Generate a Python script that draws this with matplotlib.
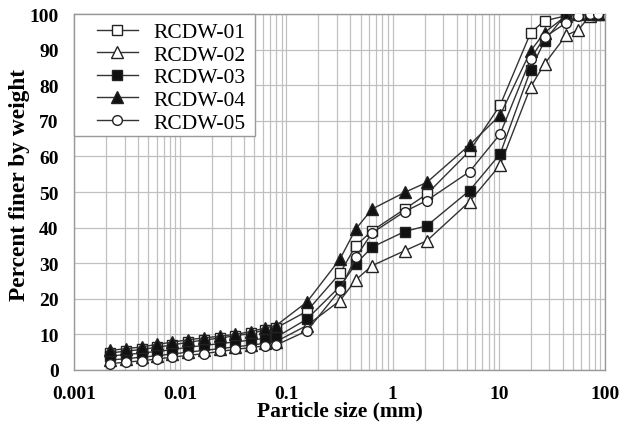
import matplotlib
matplotlib.use("Agg")
import matplotlib.pyplot as plt
from matplotlib.ticker import FixedLocator, NullFormatter, FixedFormatter
from matplotlib.patches import Rectangle

# Particle sizes (mm)
sizes = [0.0022, 0.0031, 0.0044, 0.006, 0.0084, 0.0118, 0.0167, 0.0237, 0.033,
         0.0465, 0.063, 0.08, 0.156, 0.32, 0.45, 0.64, 1.3, 2.1, 5.3, 10.3,
         20, 27, 43, 56, 72, 86]

rcdw01 = [4.8, 5.3, 5.8, 6.4, 7.0, 7.8, 8.4, 9.0, 9.6, 10.3, 11.2, 11.8,
          16.5, 27.2, 34.9, 39.1, 45.2, 49.4, 61.5, 74.4, 94.8, 98.1, 99.5, 100, 100, 100]
rcdw02 = [2.8, 3.2, 3.6, 4.0, 4.5, 5.0, 5.5, 6.0, 6.5, 7.0, 7.5, 8.0,
          12.5, 19.5, 25.3, 29.3, 33.5, 36.3, 47.3, 57.6, 79.6, 86.0, 94.0, 95.5, 99.5, 100]
rcdw03 = [4.0, 4.3, 4.8, 5.2, 5.7, 6.4, 6.9, 7.4, 7.9, 8.4, 8.9, 9.2,
          14.3, 23.5, 29.8, 34.5, 38.9, 40.5, 50.4, 60.7, 84.4, 92.5, 100, 100, 100, 100]
rcdw04 = [5.5, 6.0, 6.5, 7.2, 7.8, 8.5, 9.0, 9.5, 10.0, 10.8, 11.8, 12.5,
          19.1, 31.2, 39.6, 45.2, 49.9, 52.7, 63.2, 71.6, 89.7, 94.8, 99.5, 100, 100, 100]
rcdw05 = [1.8, 2.2, 2.6, 3.1, 3.6, 4.1, 4.6, 5.2, 5.8, 6.3, 6.8, 7.0,
          11.0, 22.5, 31.7, 38.5, 44.5, 47.6, 55.7, 66.3, 87.5, 93.5, 97.5, 99.5, 100, 100]

labels = ["RCDW-01", "RCDW-02", "RCDW-03", "RCDW-04", "RCDW-05"]
xtick_vals = [0.001, 0.01, 0.1, 1, 10, 100]
xtick_labels = ["0.001", "0.01", "0.1", "1", "10", "100"]
ytick_vals = list(range(0, 101, 10))

plt.rcParams['font.family'] = ['Liberation Serif', 'DejaVu Serif']

W, H = 625, 439
fig = plt.figure(figsize=(W/100, H/100), dpi=100)
ax = fig.add_axes([74/W, 68/H, 531/W, 356/H])

line_c = '#333333'
styles = [
    dict(marker='s', mfc='white'),
    dict(marker='^', mfc='white'),
    dict(marker='s', mfc='#111111'),
    dict(marker='^', mfc='#111111'),
    dict(marker='o', mfc='white'),
]
series = [rcdw01, rcdw02, rcdw03, rcdw04, rcdw05]
for s, lab, st in zip(series, labels, styles):
    ms = 8 if st['marker'] == '^' else 7
    ax.plot(sizes, s, color=line_c, lw=1.0, marker=st['marker'], ms=ms,
            mfc=st['mfc'], mec='#222222', mew=1.0, label=lab, zorder=3)

ax.set_xscale('log')
ax.set_xlim(0.001, 100)
ax.set_ylim(0, 100)
ax.xaxis.set_major_locator(FixedLocator(xtick_vals))
ax.xaxis.set_major_formatter(FixedFormatter(xtick_labels))
ax.xaxis.set_minor_formatter(NullFormatter())
ax.set_yticks(ytick_vals)
ax.grid(True, which='both', axis='x', color='#c0c0c0', lw=0.9)
ax.grid(True, which='major', axis='y', color='#c0c0c0', lw=0.9)
ax.set_axisbelow(True)
for sp in ax.spines.values():
    sp.set_color('#999999')
    sp.set_linewidth(1.0)
ax.tick_params(which='both', length=0)
ax.tick_params(axis='x', pad=11, labelsize=14)
ax.tick_params(axis='y', pad=11, labelsize=14)
for t in ax.get_xticklabels() + ax.get_yticklabels():
    t.set_fontweight('bold')

ax.set_xlabel("Particle size (mm)", fontsize=15.5, fontweight='bold', labelpad=-1)
ax.set_ylabel("Percent finer by weight", fontsize=16.8, fontweight='bold', labelpad=1.5)
ax.yaxis.set_label_coords(-(74 - 30) / 531, (371 - 185) / 356)
ax.yaxis.label.set_horizontalalignment('center')
ax.yaxis.label.set_verticalalignment('bottom')
ax.yaxis.label.set_rotation_mode('anchor')

# legend box (frame drawn separately to match the reference's wide left padding)
box = Rectangle((74/W, 1 - 137/H), (255-74)/W, (137-15)/H, transform=fig.transFigure,
                facecolor='white', edgecolor='#999999', lw=1.0, zorder=4, clip_on=False)
ax.add_patch(box)
leg = ax.legend(loc='upper left', bbox_to_anchor=((97-74)/531, 1 - (23-15)/356),
                fontsize=15.5, frameon=False,
                borderaxespad=0, labelspacing=0.12, handlelength=1.9,
                handletextpad=0.7, borderpad=0.0)
leg.set_zorder(5)

fig.savefig("out.png", dpi=100)
